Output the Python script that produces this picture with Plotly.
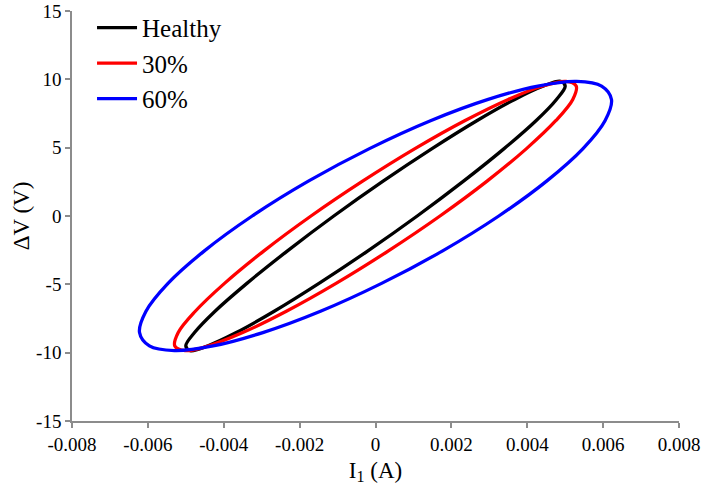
import plotly.graph_objects as go

# ---- data (I1 in A, dV in V) ----
healthy_I = [0.00110, 0.00232, 0.00339, 0.00423, 0.00477, 0.00500, 0.00488, 0.00443,
             0.00367, 0.00267, 0.00149, 0.00020, -0.00110, -0.00232, -0.00339, -0.00423,
             -0.00477, -0.00500, -0.00488, -0.00443, -0.00367, -0.00267, -0.00149, -0.00020,
             0.00110]
healthy_V = [0.00, 2.55, 4.93, 6.97, 8.53, 9.51, 9.85, 9.51,
             8.53, 6.97, 4.93, 2.55, 0.00, -2.55, -4.93, -6.97,
             -8.53, -9.51, -9.85, -9.51, -8.53, -6.97, -4.93, -2.55,
             0.00]

p30_I = [0.00170, 0.00294, 0.00398, 0.00475, 0.00520, 0.00529, 0.00502, 0.00441,
         0.00350, 0.00235, 0.00104, -0.00034, -0.00170, -0.00294, -0.00398, -0.00475,
         -0.00520, -0.00529, -0.00502, -0.00441, -0.00350, -0.00235, -0.00104, 0.00034,
         0.00170]
p30_V = [0.00, 2.55, 4.93, 6.97, 8.53, 9.51, 9.85, 9.51,
         8.53, 6.97, 4.93, 2.55, 0.00, -2.55, -4.93, -6.97,
         -8.53, -9.51, -9.85, -9.51, -8.53, -6.97, -4.93, -2.55,
         0.00]

p60_I = [0.00325, 0.00451, 0.00547, 0.00605, 0.00622, 0.00596, 0.00530, 0.00428,
         0.00297, 0.00145, -0.00016, -0.00177, -0.00325, -0.00451, -0.00547, -0.00605,
         -0.00622, -0.00596, -0.00530, -0.00428, -0.00297, -0.00145, 0.00016, 0.00177,
         0.00325]
p60_V = [0.00, 2.55, 4.93, 6.97, 8.53, 9.51, 9.85, 9.51,
         8.53, 6.97, 4.93, 2.55, 0.00, -2.55, -4.93, -6.97,
         -8.53, -9.51, -9.85, -9.51, -8.53, -6.97, -4.93, -2.55,
         0.00]

series_names = ["Healthy", "30%", "60%"]
series_colors = ["#000000", "#ff0000", "#0000ff"]

x_tickvals = [-0.008, -0.006, -0.004, -0.002, 0, 0.002, 0.004, 0.006, 0.008]
x_ticktext = ["-0.008", "-0.006", "-0.004", "-0.002", "0", "0.002", "0.004", "0.006", "0.008"]
y_tickvals = [-15, -10, -5, 0, 5, 10, 15]
y_ticktext = ["-15", "-10", "-5", "0", "5", "10", "15"]

FONT = "Liberation Serif"
AXIS_GREY = "#8c8c8c"

fig = go.Figure()
for name, color, xs, ys in zip(series_names, series_colors,
                               [healthy_I, p30_I, p60_I],
                               [healthy_V, p30_V, p60_V]):
    fig.add_trace(go.Scatter(
        x=xs, y=ys, name=name, mode="lines",
        line=dict(color=color, width=3.3, shape="spline", smoothing=1.0),
    ))

fig.update_layout(
    width=706, height=492,
    margin=dict(l=72, r=27, t=11, b=71, autoexpand=False),
    paper_bgcolor="white", plot_bgcolor="white",
    font=dict(family=FONT, color="#000000", size=19),
    showlegend=True,
    legend=dict(
        x=0.033, y=1.015, xanchor="left", yanchor="top",
        bgcolor="rgba(0,0,0,0)",
        font=dict(family=FONT, size=25, color="#000000"),
        tracegroupgap=0, itemwidth=40,
    ),
    xaxis=dict(
        range=[-0.008, 0.008], tickvals=x_tickvals, ticktext=x_ticktext,
        showgrid=False, zeroline=False, automargin=False,
        showline=True, linecolor=AXIS_GREY, linewidth=1.5,
        ticks="outside", ticklen=5, tickcolor=AXIS_GREY, tickwidth=1.5,
        tickfont=dict(family=FONT, size=19, color="#000000"),
        title=dict(text="I<sub>1</sub> (A)", font=dict(family=FONT, size=23, color="#000000"),
                   standoff=8),
    ),
    yaxis=dict(
        range=[-15, 15], tickvals=y_tickvals, ticktext=y_ticktext,
        showgrid=False, zeroline=False, automargin=False,
        showline=True, linecolor=AXIS_GREY, linewidth=1.5,
        ticks="outside", ticklen=5, tickcolor=AXIS_GREY, tickwidth=1.5,
        tickfont=dict(family=FONT, size=19, color="#000000"),
        title=dict(text="ΔV (V)", font=dict(family=FONT, size=23, color="#000000"),
                   standoff=0),
    ),
)

fig.write_html("out.html")
